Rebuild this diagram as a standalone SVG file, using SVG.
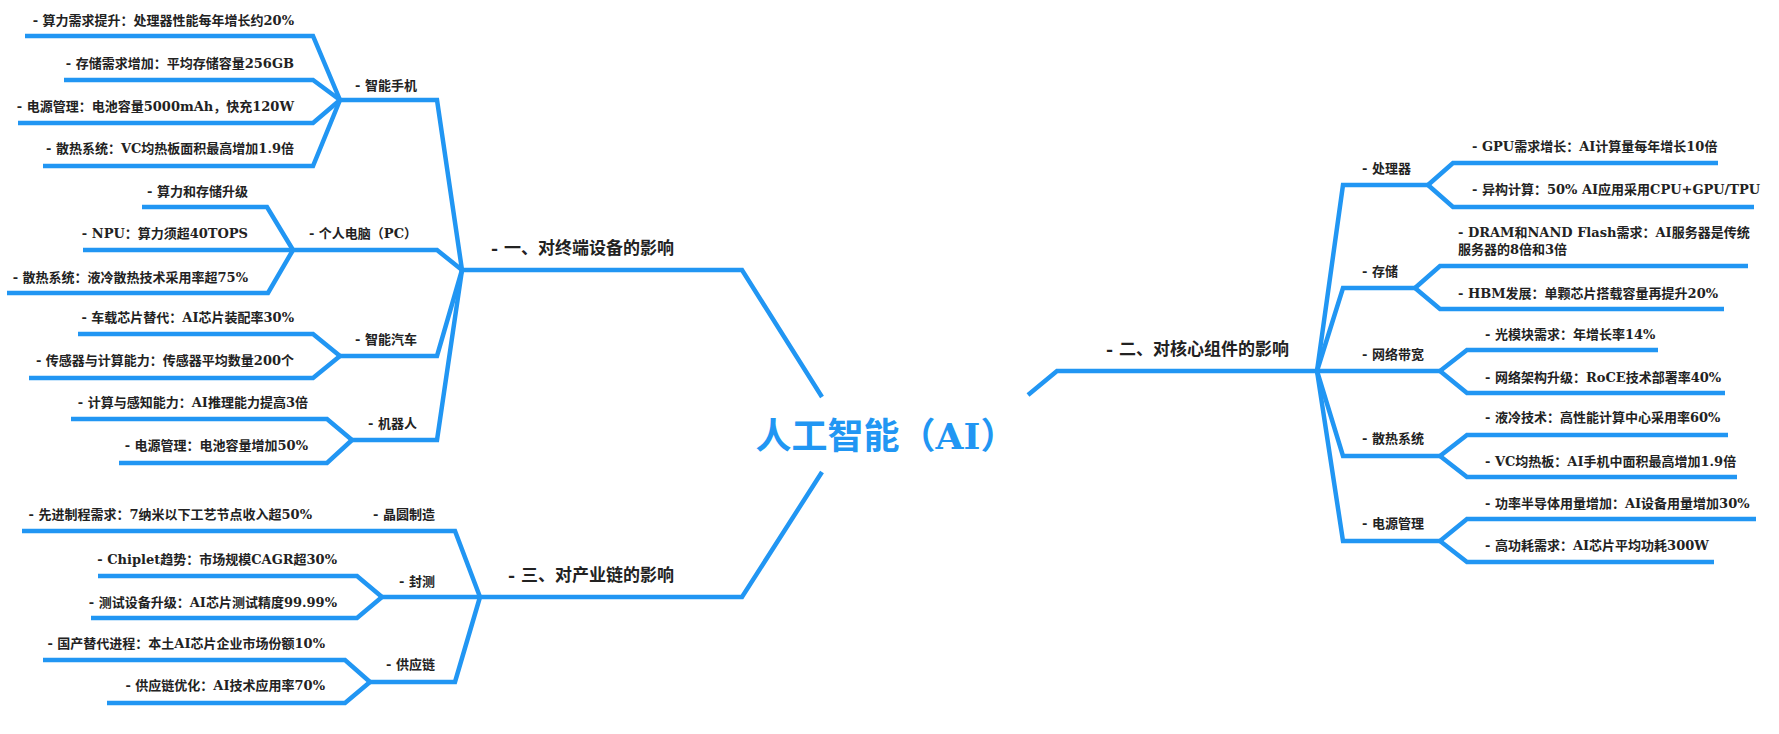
<svg xmlns="http://www.w3.org/2000/svg" width="1779" height="734" viewBox="0 0 1779 734">
<style>
text{font-family:"DejaVu Serif","Noto Sans CJK SC",serif;font-weight:bold;fill:#222}
.leaf{font-size:13px}
.sub{font-size:13px}
.main{font-size:17px}
.title{font-size:36px;fill:#2196F3}
.e{text-anchor:end}
.c{text-anchor:middle}
#connectors path{fill:none;stroke:#2196F3;stroke-width:4.5;stroke-linejoin:miter;stroke-linecap:butt}
</style>
<rect width="1779" height="734" fill="#fff"/>
<g id="connectors">
<path d="M822,397 L742,270 L462,270"/>
<path d="M462,270 L437,100 L340,100"/>
<path d="M462,270 L437,250 L293,250"/>
<path d="M462,270 L437,356 L340,356"/>
<path d="M462,270 L437,440 L352,440"/>
<path d="M340,100 L313,36 L25,36"/>
<path d="M340,100 L313,80 L64,80"/>
<path d="M340,100 L313,123 L18,123"/>
<path d="M340,100 L313,166 L43,166"/>
<path d="M293,250 L267,207 L142,207"/>
<path d="M293,250 L83,250"/>
<path d="M293,250 L268,293 L7,293"/>
<path d="M340,356 L313,334 L78,334"/>
<path d="M340,356 L313,378 L29,378"/>
<path d="M352,440 L327,419 L71,419"/>
<path d="M352,440 L327,463 L119,463"/>
<path d="M822,472 L742,597 L480,597"/>
<path d="M480,597 L455,531 L22,531"/>
<path d="M480,597 L382,597"/>
<path d="M480,597 L455,682 L370,682"/>
<path d="M382,597 L357,576 L98,576"/>
<path d="M382,597 L357,618 L91,618"/>
<path d="M370,682 L345,660 L43,660"/>
<path d="M370,682 L345,703 L107,703"/>
<path d="M1028,395 L1057,371 L1317,371"/>
<path d="M1317,371 L1343,185 L1428,185"/>
<path d="M1317,371 L1343,288 L1415,288"/>
<path d="M1317,371 L1440,371"/>
<path d="M1317,371 L1343,456 L1440,456"/>
<path d="M1317,371 L1343,541 L1440,541"/>
<path d="M1428,185 L1453,163 L1718,163"/>
<path d="M1428,185 L1453,207 L1754,207"/>
<path d="M1415,288 L1440,266 L1748,266"/>
<path d="M1415,288 L1440,309 L1724,309"/>
<path d="M1440,371 L1467,350 L1658,350"/>
<path d="M1440,371 L1467,393 L1725,393"/>
<path d="M1440,456 L1467,435 L1728,435"/>
<path d="M1440,456 L1467,477 L1737,477"/>
<path d="M1440,541 L1467,519 L1756,519"/>
<path d="M1440,541 L1467,562 L1714,562"/>
</g>
<g id="root"><text class="title c" x="886" y="449">人工智能（AI）</text></g>
<g id="b1"><text class="main e" x="674" y="254">- 一、对终端设备的影响</text></g>
<g id="b2"><text class="main" x="1106" y="355">- 二、对核心组件的影响</text></g>
<g id="b3"><text class="main e" x="674" y="581">- 三、对产业链的影响</text></g>
<g id="n-phone"><text class="sub e" x="417" y="90">- 智能手机</text></g>
<g id="n-pc"><text class="sub e" x="417" y="238">- 个人电脑（PC）</text></g>
<g id="n-car"><text class="sub e" x="417" y="344">- 智能汽车</text></g>
<g id="n-robot"><text class="sub e" x="417" y="428">- 机器人</text></g>
<g id="l-phone1"><text class="leaf e" x="294" y="25">- 算力需求提升：处理器性能每年增长约20%</text></g>
<g id="l-phone2"><text class="leaf e" x="294" y="68">- 存储需求增加：平均存储容量256GB</text></g>
<g id="l-phone3"><text class="leaf e" x="294" y="111">- 电源管理：电池容量5000mAh，快充120W</text></g>
<g id="l-phone4"><text class="leaf e" x="294" y="153">- 散热系统：VC均热板面积最高增加1.9倍</text></g>
<g id="l-pc1"><text class="leaf e" x="248" y="196">- 算力和存储升级</text></g>
<g id="l-pc2"><text class="leaf e" x="248" y="238">- NPU：算力须超40TOPS</text></g>
<g id="l-pc3"><text class="leaf e" x="248" y="282">- 散热系统：液冷散热技术采用率超75%</text></g>
<g id="l-car1"><text class="leaf e" x="294" y="322">- 车载芯片替代：AI芯片装配率30%</text></g>
<g id="l-car2"><text class="leaf e" x="294" y="365">- 传感器与计算能力：传感器平均数量200个</text></g>
<g id="l-robot1"><text class="leaf e" x="308" y="407">- 计算与感知能力：AI推理能力提高3倍</text></g>
<g id="l-robot2"><text class="leaf e" x="308" y="450">- 电源管理：电池容量增加50%</text></g>
<g id="n-wafer"><text class="sub e" x="435" y="519">- 晶圆制造</text></g>
<g id="n-pack"><text class="sub e" x="435" y="586">- 封测</text></g>
<g id="n-supply"><text class="sub e" x="435" y="669">- 供应链</text></g>
<g id="l-wafer1"><text class="leaf e" x="312" y="519">- 先进制程需求：7纳米以下工艺节点收入超50%</text></g>
<g id="l-pack1"><text class="leaf e" x="337" y="564">- Chiplet趋势：市场规模CAGR超30%</text></g>
<g id="l-pack2"><text class="leaf e" x="337" y="607">- 测试设备升级：AI芯片测试精度99.99%</text></g>
<g id="l-supply1"><text class="leaf e" x="325" y="648">- 国产替代进程：本土AI芯片企业市场份额10%</text></g>
<g id="l-supply2"><text class="leaf e" x="325" y="690">- 供应链优化：AI技术应用率70%</text></g>
<g id="n-cpu"><text class="sub" x="1362" y="173">- 处理器</text></g>
<g id="n-mem"><text class="sub" x="1362" y="276">- 存储</text></g>
<g id="n-net"><text class="sub" x="1362" y="359">- 网络带宽</text></g>
<g id="n-cool"><text class="sub" x="1362" y="443">- 散热系统</text></g>
<g id="n-power"><text class="sub" x="1362" y="528">- 电源管理</text></g>
<g id="l-cpu1"><text class="leaf" x="1472" y="151">- GPU需求增长：AI计算量每年增长10倍</text></g>
<g id="l-cpu2"><text class="leaf" x="1472" y="194">- 异构计算：50% AI应用采用CPU+GPU/TPU</text></g>
<g id="l-mem1"><text class="leaf" x="1458" y="237">- DRAM和NAND Flash需求：AI服务器是传统<tspan x="1458" y="254">服务器的8倍和3倍</tspan></text></g>
<g id="l-mem2"><text class="leaf" x="1458" y="298">- HBM发展：单颗芯片搭载容量再提升20%</text></g>
<g id="l-net1"><text class="leaf" x="1485" y="339">- 光模块需求：年增长率14%</text></g>
<g id="l-net2"><text class="leaf" x="1485" y="382">- 网络架构升级：RoCE技术部署率40%</text></g>
<g id="l-cool1"><text class="leaf" x="1485" y="422">- 液冷技术：高性能计算中心采用率60%</text></g>
<g id="l-cool2"><text class="leaf" x="1485" y="466">- VC均热板：AI手机中面积最高增加1.9倍</text></g>
<g id="l-power1"><text class="leaf" x="1485" y="508">- 功率半导体用量增加：AI设备用量增加30%</text></g>
<g id="l-power2"><text class="leaf" x="1485" y="550">- 高功耗需求：AI芯片平均功耗300W</text></g>
</svg>
